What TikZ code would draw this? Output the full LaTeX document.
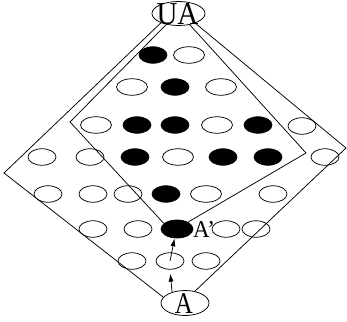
\documentclass[tikz,border=0pt]{standalone}
\usepackage{fontspec}
\setmainfont{Liberation Serif}
\usetikzlibrary{shapes.geometric,arrows.meta}
\begin{document}
\begin{tikzpicture}[x=1pt,y=-1pt,
  ov/.style={ellipse,draw,line width=0.75pt,minimum width=28pt,minimum height=16.5pt,inner sep=0pt},
  fb/.style={ov,fill=black},
  wd/.style={minimum width=31pt},
  edge/.style={line width=0.75pt},
  arr/.style={line width=0.75pt,-{Latex[length=8pt,width=5pt]}},
  big/.style={ellipse,draw,line width=0.75pt,inner sep=0pt},
  txt/.style={inner sep=0pt}]
\useasboundingbox (0,0) rectangle (347,321);
% labelled nodes
\node[big,minimum width=53pt,minimum height=24pt] (UA) at (178.5,13.5) {};
\node[txt,font=\fontsize{29}{29}\selectfont] (UAt) at (177.5,14) {\scalebox{1}[1.1]{UA}};
\node[big,minimum width=48pt,minimum height=25pt] (A) at (185,303) {};
\node[txt,font=\fontsize{25}{25}\selectfont] (At) at (184,303.5) {\scalebox{1}[1.2]{A}};
\node[fb,minimum width=32pt,minimum height=18pt] (Ap) at (177,229) {};
\node[txt,anchor=base west,font=\fontsize{23}{23}\selectfont] (Apl) at (193,237.5) {\scalebox{1}[1.05]{A'}};
% row 1
\node[fb] (r1a) at (153,55) {};
\node[ov,wd] (r1b) at (189,55) {};
% row 2
\node[ov,wd] (r2a) at (132,87) {};
\node[fb] (r2b) at (175,87) {};
\node[ov,wd] (r2c) at (221,87) {};
% row 3
\node[ov,wd] (r3a) at (96,125) {};
\node[fb] (r3b) at (137,125) {};
\node[fb] (r3c) at (175,125) {};
\node[ov,wd] (r3d) at (217,125) {};
\node[fb] (r3e) at (258,125) {};
\node[ov] (r3f) at (302,126) {};
% row 4
\node[ov] (r4a) at (42,157) {};
\node[ov] (r4b) at (90,157) {};
\node[fb] (r4c) at (135,157) {};
\node[ov,wd] (r4d) at (178,157) {};
\node[fb] (r4e) at (223,157) {};
\node[fb] (r4f) at (268,157) {};
\node[ov] (r4g) at (325,157) {};
% row 5
\node[ov] (r5a) at (48,194) {};
\node[ov] (r5b) at (93,194) {};
\node[ov] (r5c) at (128,194) {};
\node[fb] (r5d) at (166,194) {};
\node[ov,wd] (r5e) at (206,194) {};
\node[ov] (r5f) at (273,194) {};
% row 6
\node[ov] (r6a) at (93,229) {};
\node[ov] (r6b) at (138,229) {};
\node[ov] (r6c) at (226,229) {};
\node[ov] (r6d) at (256,229) {};
% row 7
\node[ov] (r7a) at (132,261) {};
\node[ov] (r7b) at (170,261) {};
\node[ov] (r7c) at (206,261) {};
% frame corners
\coordinate (Lout) at (4,173);
\coordinate (Rout) at (346,148);
\coordinate (Lin) at (70,122);
\coordinate (Rin) at (306,153);
\draw[edge] (UA.208) -- (Lout) -- (A.165);
\draw[edge] (UA.330) -- (Rout) -- (A.50);
\draw[edge] (UA.222) -- (Lin) -- (Ap.157);
\draw[edge] (UA.315) -- (Rin) -- (Ap.32);
% arrows
\draw[arr,shorten >=4pt] (A.140) -- (r7b.south);
\draw[arr] (r7b.center) -- (Ap.255);
\end{tikzpicture}
\end{document}
